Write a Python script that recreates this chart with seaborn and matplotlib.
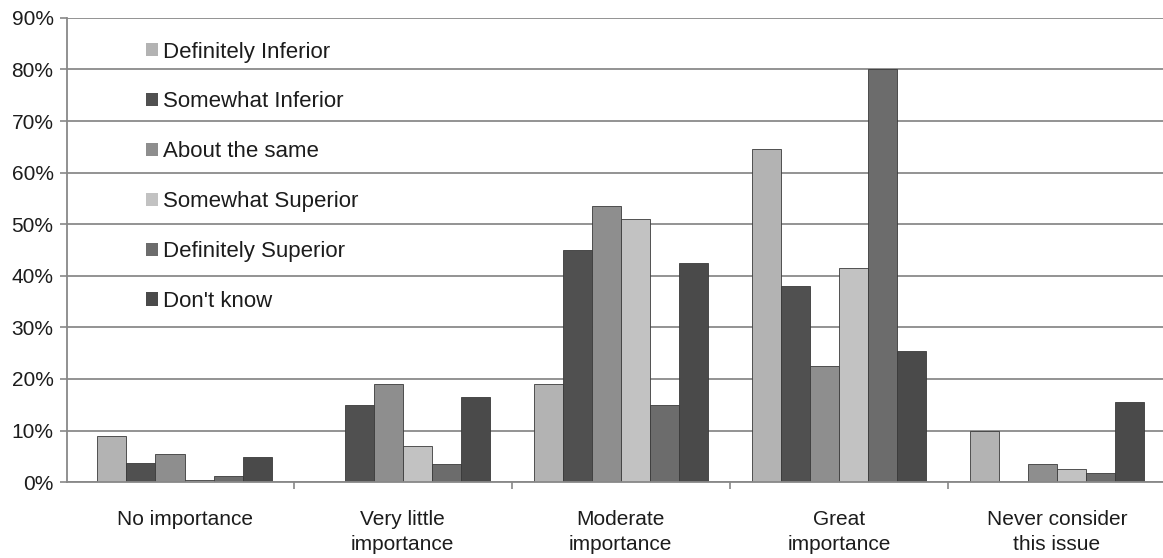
import seaborn as sns
import pandas as pd
import matplotlib.pyplot as plt
from matplotlib.patches import Patch

# DATA
categories = ["No importance", "Very little\nimportance", "Moderate\nimportance",
              "Great\nimportance", "Never consider\nthis issue"]
responses = ["Definitely Inferior", "Somewhat Inferior", "About the same",
             "Somewhat Superior", "Definitely Superior", "Don't know"]
definitely_inferior = [9, 0, 19, 64.5, 10]
somewhat_inferior = [3.8, 15, 45, 38, 0]
about_same = [5.5, 19, 53.5, 22.5, 3.5]
somewhat_superior = [0.5, 7, 51, 41.5, 2.5]
definitely_superior = [1.2, 3.5, 15, 80, 1.8]
dont_know = [4.8, 16.5, 42.5, 25.5, 15.5]
y_ticks = [0, 10, 20, 30, 40, 50, 60, 70, 80, 90]

series = [definitely_inferior, somewhat_inferior, about_same,
          somewhat_superior, definitely_superior, dont_know]
rows = []
for resp, vals in zip(responses, series):
    for cat, v in zip(categories, vals):
        rows.append({"category": cat, "response": resp, "value": v})
df = pd.DataFrame(rows)

colors = ["#b3b3b3", "#505050", "#8e8e8e", "#c2c2c2", "#6c6c6c", "#4a4a4a"]
text_color = "#1c1c1c"

sns.set_style("white")
plt.rcParams["font.family"] = ["Liberation Sans", "DejaVu Sans"]

fig = plt.figure(figsize=(11.63, 5.58), dpi=100)
ax = fig.add_axes([0.058, 0.136, 0.942, 0.832])

sns.barplot(data=df, x="category", y="value", hue="response", order=categories,
            hue_order=responses, palette=colors, width=0.8, ax=ax,
            edgecolor="#3a3a3a", linewidth=0.6, legend=False)

ax.set_ylim(0, 90)
ax.set_xlim(-0.537, 4.486)
ax.set_yticks(y_ticks)
ax.set_yticklabels([f"{v}%" for v in y_ticks], fontsize=15, color=text_color)
ax.yaxis.grid(True, color="#8a8a8a", linewidth=1.3)
ax.set_axisbelow(True)
ax.set_xlabel("")
ax.set_ylabel("")
ax.tick_params(axis="x", length=0, pad=20, labelsize=15, labelcolor=text_color)
for lbl in ax.get_xticklabels():
    lbl.set_linespacing(1.4)
    lbl.set_verticalalignment("top")
ax.tick_params(axis="y", left=True, length=5, width=1.2, color="#888888", pad=5)
ax.set_xticks([0.5, 1.5, 2.5, 3.5], minor=True)
ax.tick_params(axis="x", which="minor", bottom=True, length=5, width=1.2, color="#888888")

for side in ["top", "right"]:
    ax.spines[side].set_visible(False)
for side in ["left", "bottom"]:
    ax.spines[side].set_color("#888888")
    ax.spines[side].set_linewidth(1.3)

handles = [Patch(facecolor=c, edgecolor="none") for c in colors]
ax.legend(handles, responses, loc="upper left", bbox_to_anchor=(0.053, 0.992),
          frameon=False, fontsize=16, labelspacing=1.3, handlelength=0.55,
          handleheight=0.55, handletextpad=0.25, labelcolor=text_color)

fig.savefig("out.png", dpi=100)
